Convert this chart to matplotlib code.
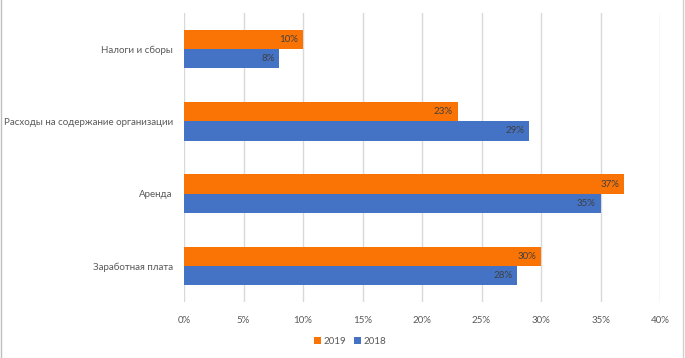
import numpy as np
import matplotlib
matplotlib.use("Agg")
from matplotlib import pyplot
from matplotlib.ticker import PercentFormatter

# данные
categories = ["Налоги и сборы", "Расходы на содержание организации", "Аренда", "Заработная плата"]
values_2019 = [10, 23, 37, 30]
values_2018 = [8, 29, 35, 28]
xticks = [0, 5, 10, 15, 20, 25, 30, 35, 40]

orange = "#FA7305"
blue = "#4472C4"
text_col = "#595959"

pyplot.rcParams["font.family"] = ["Lato", "DejaVu Sans"]

W, H = 685, 358
fig = pyplot.figure(figsize=(W / 100, H / 100), dpi=100)
ax = fig.add_axes([184 / W, 1 - 302 / H, (660 - 184) / W, (302 - 13) / H])

y = np.arange(len(categories))
h = 0.265
b19 = ax.barh(y - h / 2, values_2019, height=h, color=orange, label="2019", zorder=3)
b18 = ax.barh(y + h / 2, values_2018, height=h, color=blue, label="2018", zorder=3)

for bars in (b19, b18):
    for r in bars:
        v = r.get_width()
        ax.text(v - 0.4, r.get_y() + r.get_height() / 2, f"{v:.0f}%", ha="right", va="center",
                fontsize=7, color="#404040", zorder=4)

ax.set_ylim(len(categories) - 0.5, -0.5)
ax.set_xlim(0, 40)
ax.set_xticks(xticks)
ax.xaxis.set_major_formatter(PercentFormatter(decimals=0))
ax.set_yticks(y)
ax.set_yticklabels(categories)
ax.grid(axis="x", color="#D9D9D9", linewidth=1, zorder=0)
for s in ax.spines.values():
    s.set_visible(False)
ax.tick_params(axis="both", length=0, labelsize=7, colors=text_col)
ax.tick_params(axis="x", pad=10)
ax.tick_params(axis="y", pad=8)

fig.legend(handles=[b19, b18], loc="center", bbox_to_anchor=(350 / W, 1 - 341 / H), ncol=2,
           frameon=False, fontsize=7, labelcolor=text_col, handlelength=0.7, handleheight=0.7,
           handletextpad=0.3, columnspacing=0.8)

# рамка слева и справа
fig.add_artist(pyplot.Line2D([0.5 / W, 0.5 / W], [0, 1], color="#BFBFBF", linewidth=1))
fig.add_artist(pyplot.Line2D([683 / W, 683 / W], [0, 1], color="#D0D0D0", linewidth=1))

fig.savefig("out.png", dpi=100)
